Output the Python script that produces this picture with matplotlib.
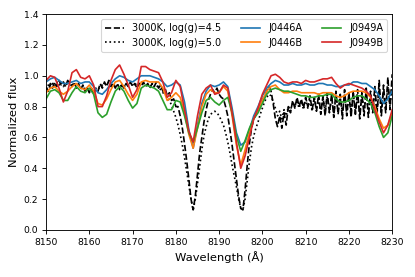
import matplotlib
matplotlib.use('Agg')
import matplotlib.pyplot as plt
import numpy as np

# wavelength grids (Angstrom)
wave_obs = np.arange(8150, 8231, 1.0)
wave_model = np.arange(8150, 8230.5, 0.5)

# observed spectra, 1 A sampling
j0446a = [0.96, 0.98, 0.99, 0.97, 0.95, 0.95, 0.96, 0.97, 0.95, 0.96,
          0.96, 0.93, 0.89, 0.88, 0.91, 0.95, 0.98, 1.00, 0.99, 0.97,
          0.96, 0.98, 1.00, 1.00, 1.00, 0.99, 0.98, 0.96, 0.93, 0.94,
          0.96, 0.94, 0.83, 0.65, 0.53, 0.68, 0.82, 0.90, 0.94, 0.93,
          0.94, 0.96, 0.93, 0.79, 0.63, 0.55, 0.57, 0.65, 0.74, 0.80,
          0.87, 0.92, 0.95, 0.97, 0.96, 0.94, 0.94, 0.95, 0.94, 0.94,
          0.95, 0.94, 0.94, 0.95, 0.95, 0.94, 0.94, 0.93, 0.93, 0.94,
          0.94, 0.96, 0.96, 0.95, 0.95, 0.93, 0.91, 0.87, 0.82, 0.85,
          0.90]
j0446b = [0.89, 0.92, 0.93, 0.90, 0.88, 0.90, 0.93, 0.95, 0.92, 0.91,
          0.94, 0.90, 0.82, 0.81, 0.85, 0.91, 0.96, 0.97, 0.93, 0.88,
          0.84, 0.88, 0.96, 0.97, 0.96, 0.96, 0.96, 0.92, 0.84, 0.86,
          0.89, 0.86, 0.76, 0.62, 0.53, 0.66, 0.80, 0.88, 0.91, 0.89,
          0.89, 0.93, 0.90, 0.74, 0.55, 0.42, 0.52, 0.63, 0.72, 0.78,
          0.84, 0.90, 0.93, 0.94, 0.91, 0.89, 0.89, 0.90, 0.90, 0.89,
          0.89, 0.89, 0.89, 0.88, 0.89, 0.89, 0.89, 0.87, 0.86, 0.87,
          0.89, 0.90, 0.90, 0.90, 0.89, 0.86, 0.80, 0.72, 0.66, 0.68,
          0.76]
j0949a = [0.85, 0.90, 0.91, 0.89, 0.84, 0.84, 0.89, 0.93, 0.90, 0.89,
          0.92, 0.88, 0.76, 0.73, 0.75, 0.83, 0.90, 0.93, 0.90, 0.84,
          0.79, 0.82, 0.92, 0.94, 0.93, 0.92, 0.90, 0.84, 0.78, 0.78,
          0.84, 0.83, 0.74, 0.63, 0.57, 0.66, 0.76, 0.84, 0.86, 0.83,
          0.81, 0.84, 0.86, 0.76, 0.61, 0.51, 0.58, 0.66, 0.72, 0.76,
          0.82, 0.88, 0.91, 0.92, 0.91, 0.90, 0.90, 0.89, 0.88, 0.87,
          0.87, 0.86, 0.86, 0.87, 0.87, 0.88, 0.88, 0.85, 0.83, 0.83,
          0.84, 0.86, 0.87, 0.87, 0.85, 0.82, 0.76, 0.67, 0.60, 0.63,
          0.74]
j0949b = [0.97, 1.00, 0.99, 0.92, 0.83, 0.90, 1.02, 1.04, 0.99, 0.98,
          1.00, 0.94, 0.80, 0.80, 0.87, 0.97, 1.04, 1.07, 1.01, 0.94,
          0.86, 0.91, 1.06, 1.06, 1.04, 1.03, 1.02, 0.96, 0.86, 0.89,
          0.97, 0.93, 0.78, 0.64, 0.57, 0.74, 0.88, 0.92, 0.94, 0.88,
          0.89, 0.94, 0.92, 0.76, 0.57, 0.40, 0.48, 0.60, 0.72, 0.79,
          0.88, 0.94, 1.00, 1.01, 0.99, 0.96, 0.95, 0.96, 0.96, 0.95,
          0.97, 0.96, 0.96, 0.97, 0.98, 0.98, 0.99, 0.95, 0.92, 0.94,
          0.95, 0.94, 0.93, 0.92, 0.90, 0.87, 0.78, 0.70, 0.63, 0.68,
          0.78]

# model spectra (3000 K), 0.5 A sampling
model_g45 = [0.93, 0.90, 0.95, 0.92, 0.96, 0.93, 0.97, 0.94, 0.96, 0.93,
             0.97, 0.95, 0.93, 0.96, 0.92, 0.95, 0.91, 0.94, 0.90, 0.93,
             0.89, 0.92, 0.88, 0.92, 0.90, 0.95, 0.92, 0.96, 0.93, 0.97,
             0.93, 0.95, 0.92, 0.95, 0.91, 0.94, 0.92, 0.95, 0.93, 0.96,
             0.93, 0.95, 0.92, 0.95, 0.93, 0.96, 0.93, 0.95, 0.92, 0.95,
             0.93, 0.96, 0.92, 0.94, 0.90, 0.92, 0.87, 0.89, 0.84, 0.85,
             0.80, 0.80, 0.74, 0.66, 0.56, 0.45, 0.33, 0.20, 0.13, 0.22,
             0.36, 0.50, 0.60, 0.70, 0.78, 0.84, 0.88, 0.91, 0.89, 0.92,
             0.88, 0.86, 0.85, 0.80, 0.74, 0.65, 0.55, 0.44, 0.33, 0.22,
             0.14, 0.13, 0.26, 0.42, 0.56, 0.66, 0.72, 0.75, 0.78, 0.81,
             0.84, 0.87, 0.90, 0.93, 0.90, 0.82, 0.72, 0.67, 0.74, 0.66,
             0.76, 0.68, 0.80, 0.76, 0.84, 0.79, 0.86, 0.80, 0.85, 0.79,
             0.86, 0.80, 0.87, 0.78, 0.86, 0.77, 0.88, 0.75, 0.87, 0.74,
             0.89, 0.76, 0.88, 0.73, 0.90, 0.75, 0.88, 0.72, 0.91, 0.74,
             0.89, 0.73, 0.90, 0.75, 0.91, 0.72, 0.89, 0.74, 0.92, 0.73,
             0.90, 0.76, 0.93, 0.75, 0.97, 0.74, 0.94, 0.76, 0.99, 0.78,
             1.01]
model_g50 = [0.91, 0.94, 0.92, 0.95, 0.93, 0.96, 0.94, 0.96, 0.93, 0.95,
             0.94, 0.96, 0.94, 0.95, 0.93, 0.94, 0.92, 0.93, 0.91, 0.92,
             0.90, 0.91, 0.89, 0.91, 0.91, 0.93, 0.94, 0.95, 0.94, 0.96,
             0.94, 0.95, 0.93, 0.94, 0.93, 0.94, 0.93, 0.94, 0.94, 0.95,
             0.94, 0.95, 0.94, 0.95, 0.94, 0.95, 0.94, 0.94, 0.93, 0.94,
             0.93, 0.94, 0.92, 0.91, 0.89, 0.88, 0.86, 0.84, 0.81, 0.77,
             0.73, 0.68, 0.62, 0.55, 0.47, 0.38, 0.29, 0.20, 0.13, 0.20,
             0.30, 0.41, 0.52, 0.61, 0.67, 0.72, 0.75, 0.76, 0.77, 0.76,
             0.74, 0.71, 0.68, 0.63, 0.57, 0.50, 0.42, 0.35, 0.28, 0.20,
             0.14, 0.13, 0.20, 0.32, 0.44, 0.54, 0.61, 0.66, 0.70, 0.75,
             0.79, 0.83, 0.86, 0.88, 0.87, 0.83, 0.79, 0.74, 0.77, 0.72,
             0.78, 0.74, 0.80, 0.78, 0.82, 0.80, 0.83, 0.79, 0.84, 0.78,
             0.85, 0.79, 0.84, 0.77, 0.86, 0.78, 0.85, 0.76, 0.86, 0.77,
             0.87, 0.76, 0.86, 0.75, 0.87, 0.77, 0.86, 0.76, 0.88, 0.75,
             0.87, 0.77, 0.88, 0.76, 0.87, 0.75, 0.88, 0.77, 0.89, 0.76,
             0.88, 0.78, 0.90, 0.77, 0.92, 0.76, 0.90, 0.78, 0.93, 0.80,
             0.95]

fig, ax = plt.subplots(figsize=(5.1875, 3.4625), dpi=80)
fig.subplots_adjust(left=0.111, right=0.945, top=0.949, bottom=0.17)

# models first, observed spectra drawn over them
h1, = ax.plot(wave_model, model_g45, color='k', ls='--', lw=1.5,
              label='3000K, log(g)=4.5')
h2, = ax.plot(wave_model, model_g50, color='k', ls=':', lw=1.5,
              label='3000K, log(g)=5.0')

h_obs = []
for flux, name, color in [(j0446a, 'J0446A', 'C0'), (j0446b, 'J0446B', 'C1'),
                          (j0949a, 'J0949A', 'C2'), (j0949b, 'J0949B', 'C3')]:
    line, = ax.plot(wave_obs, flux, color=color, lw=1.5, label=name)
    h_obs.append(line)

ax.legend(handles=[h1, h2] + h_obs, ncol=3, loc='upper right', fontsize=8.8)
ax.set_xlim(8150, 8230)
ax.set_ylim(0, 1.4)
ax.tick_params(labelsize=8.3)
ax.set_xlabel('Wavelength (Å)', fontsize=10.3)
ax.set_ylabel('Normalized flux', fontsize=10.3)

fig.savefig('out.png', dpi=80)
